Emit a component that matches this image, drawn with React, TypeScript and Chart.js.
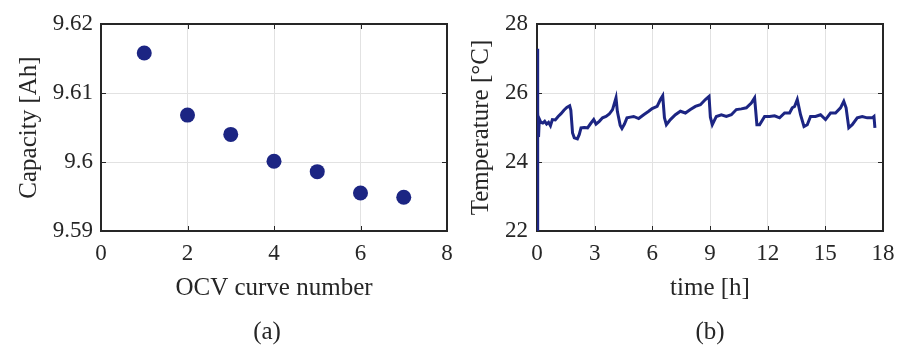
import React, { useEffect, useRef } from "react";
import { Chart, registerables } from "chart.js";

Chart.register(...registerables);

// ---- Data (a): capacity vs OCV curve number ----
const curveNumbers = [1, 2, 3, 4, 5, 6, 7];
const capacities = [9.6158, 9.6068, 9.604, 9.6001, 9.5986, 9.5955, 9.5949];
const capXTicks = [0, 2, 4, 6, 8];
const capYTicks = [9.59, 9.6, 9.61, 9.62];

// ---- Data (b): temperature vs time ----
const timeHours = [
  0.0, 0.02, 0.05, 0.08, 0.12, 0.2, 0.3, 0.4, 0.5, 0.6, 0.7, 0.8, 0.95, 1.1, 1.25, 1.4, 1.55, 1.7,
  1.76, 1.85, 1.94, 2.1, 2.2, 2.29, 2.45, 2.63, 2.81, 2.95, 3.07, 3.24, 3.41, 3.59, 3.76, 3.93,
  4.11, 4.18, 4.33, 4.42, 4.55, 4.68, 4.86, 5.03, 5.29, 5.55, 5.81, 5.99, 6.25, 6.42, 6.54, 6.63,
  6.73, 6.94, 7.2, 7.46, 7.72, 7.98, 8.24, 8.5, 8.76, 8.95, 9.02, 9.12, 9.33, 9.59, 9.85, 10.11,
  10.37, 10.63, 10.89, 11.15, 11.32, 11.44, 11.58, 11.84, 12.1, 12.36, 12.62, 12.88, 13.14, 13.28,
  13.4, 13.54, 13.71, 13.89, 14.06, 14.23, 14.49, 14.75, 15.01, 15.27, 15.53, 15.79, 15.96, 16.08,
  16.22, 16.4, 16.66, 16.92, 17.18, 17.44, 17.53, 17.58,
];
const temperatures = [
  22.0, 27.28, 25.45, 24.72, 25.25, 25.15, 25.13, 25.18, 25.1, 25.15, 25.05, 25.23, 25.22, 25.32, 25.4, 25.5, 25.58, 25.63,
  25.5, 24.84, 24.7, 24.67, 24.8, 24.99, 25.0, 24.99, 25.13, 25.23, 25.1, 25.18, 25.28, 25.32, 25.39, 25.52,
  25.86, 25.47, 25.06, 24.97, 25.1, 25.28, 25.3, 25.32, 25.26, 25.37, 25.47, 25.55, 25.61, 25.81, 25.92, 25.28,
  25.08, 25.23, 25.37, 25.47, 25.42, 25.52, 25.61, 25.66, 25.81, 25.9, 25.3, 25.08, 25.32, 25.37, 25.32, 25.37,
  25.52, 25.54, 25.57, 25.71, 25.86, 25.08, 25.08, 25.32, 25.32, 25.34, 25.28, 25.42, 25.42, 25.57,
  25.61, 25.81, 25.37, 25.03, 25.08, 25.32, 25.32, 25.37, 25.23, 25.42, 25.42, 25.57, 25.76, 25.57,
  24.99, 25.08, 25.28, 25.32, 25.28, 25.28, 25.32, 24.99,
];
const timeTicks = [0, 3, 6, 9, 12, 15, 18];
const tempTicks = [22, 24, 26, 28];

const NAVY = "#1c2583";
const TEXT = "#262626";
const GRID = "#e2e2e2";
const FONT = "'Liberation Serif', 'Times New Roman', serif";

const matlabFrame = {
  id: "matlabFrame",
  beforeDatasetsDraw(chart: any) {
    const { ctx, chartArea: a, scales } = chart;
    const L = 5;
    ctx.save();
    ctx.strokeStyle = TEXT;
    ctx.lineWidth = 1;
    ctx.beginPath();
    scales.x.ticks.forEach((t: any) => {
      const px = Math.round(scales.x.getPixelForValue(t.value)) + 0.5;
      ctx.moveTo(px, a.bottom);
      ctx.lineTo(px, a.bottom - L);
      ctx.moveTo(px, a.top);
      ctx.lineTo(px, a.top + L);
    });
    scales.y.ticks.forEach((t: any) => {
      const py = Math.round(scales.y.getPixelForValue(t.value)) + 0.5;
      ctx.moveTo(a.left, py);
      ctx.lineTo(a.left + L, py);
      ctx.moveTo(a.right, py);
      ctx.lineTo(a.right - L, py);
    });
    ctx.stroke();
    ctx.lineWidth = 2;
    ctx.strokeRect(a.left, a.top, a.right - a.left, a.bottom - a.top);
    ctx.restore();
  },
};

const fmt = (v: any) => String(+Number(v).toFixed(4));

function makeScales(opts: {
  xMin: number; xMax: number; xTicks: number[]; xTitle: string;
  yMin: number; yMax: number; yTicks: number[]; yTitle: string;
  yWidth: number; yTitlePad: number; yTickPad: number;
}) {
  return {
    x: {
      type: "linear",
      min: opts.xMin,
      max: opts.xMax,
      afterBuildTicks: (s: any) => { s.ticks = opts.xTicks.map((v) => ({ value: v })); },
      afterFit: (s: any) => { s.height = 118; },
      grid: { color: GRID, lineWidth: 1, drawTicks: false },
      border: { display: false },
      ticks: { color: TEXT, font: { family: FONT, size: 23 }, padding: 9, callback: fmt, maxRotation: 0, autoSkip: false },
      title: { display: true, text: opts.xTitle, color: TEXT, font: { family: FONT, size: 25 }, padding: { top: 0, bottom: 46 } },
    },
    y: {
      type: "linear",
      min: opts.yMin,
      max: opts.yMax,
      afterBuildTicks: (s: any) => { s.ticks = opts.yTicks.map((v) => ({ value: v })); },
      afterFit: (s: any) => { s.width = opts.yWidth; },
      grid: { color: GRID, lineWidth: 1, drawTicks: false },
      border: { display: false },
      ticks: { color: TEXT, font: { family: FONT, size: 23 }, padding: opts.yTickPad, callback: fmt, autoSkip: false },
      title: { display: true, text: opts.yTitle, color: TEXT, font: { family: FONT, size: 25 }, padding: { top: opts.yTitlePad, bottom: 0 } },
    },
  };
}

export default function App() {
  const leftRef = useRef<HTMLCanvasElement>(null);
  const rightRef = useRef<HTMLCanvasElement>(null);

  useEffect(() => {
    const left = new Chart(leftRef.current as HTMLCanvasElement, {
      type: "scatter",
      data: {
        datasets: [{
          data: curveNumbers.map((x, i) => ({ x, y: capacities[i] })),
          backgroundColor: NAVY,
          borderColor: NAVY,
          borderWidth: 0,
          pointRadius: 7.5,
        }],
      },
      options: {
        responsive: false,
        animation: false,
        devicePixelRatio: 1,
        layout: { padding: { top: 24, right: 23, bottom: 0, left: 0 } },
        plugins: { legend: { display: false }, tooltip: { enabled: false } },
        scales: makeScales({
          xMin: 0, xMax: 8, xTicks: capXTicks, xTitle: "OCV curve number",
          yMin: 9.59, yMax: 9.62, yTicks: capYTicks, yTitle: "Capacity [Ah]",
          yWidth: 101, yTitlePad: 14, yTickPad: 8,
        }) as any,
      },
      plugins: [matlabFrame],
    } as any);

    const right = new Chart(rightRef.current as HTMLCanvasElement, {
      type: "line",
      data: {
        datasets: [{
          data: timeHours.map((x, i) => ({ x, y: temperatures[i] })),
          borderColor: NAVY,
          borderWidth: 3,
          pointRadius: 0,
          tension: 0,
          fill: false,
        }],
      },
      options: {
        responsive: false,
        animation: false,
        devicePixelRatio: 1,
        layout: { padding: { top: 24, right: 24, bottom: 0, left: 0 } },
        plugins: { legend: { display: false }, tooltip: { enabled: false } },
        scales: makeScales({
          xMin: 0, xMax: 18, xTicks: timeTicks, xTitle: "time [h]",
          yMin: 22, yMax: 28, yTicks: tempTicks, yTitle: "Temperature [°C]",
          yWidth: 82, yTitlePad: 11, yTickPad: 9,
        }) as any,
      },
      plugins: [matlabFrame],
    } as any);

    return () => {
      left.destroy();
      right.destroy();
    };
  }, []);

  const capStyle: React.CSSProperties = {
    position: "absolute",
    top: 316,
    width: 60,
    textAlign: "center",
    fontFamily: FONT,
    fontSize: 25,
    color: TEXT,
    lineHeight: "30px",
  };

  return (
    <div style={{ position: "fixed", left: 0, top: 0, width: 897, height: 349, background: "#fff", overflow: "hidden" }}>
      <canvas ref={leftRef} width={470} height={349} style={{ position: "absolute", left: 0, top: 0, display: "block" }} />
      <canvas ref={rightRef} width={452} height={349} style={{ position: "absolute", left: 455, top: 0, display: "block" }} />
      <div style={{ ...capStyle, left: 267 - 30 }}>(a)</div>
      <div style={{ ...capStyle, left: 710 - 30 }}>(b)</div>
    </div>
  );
}
